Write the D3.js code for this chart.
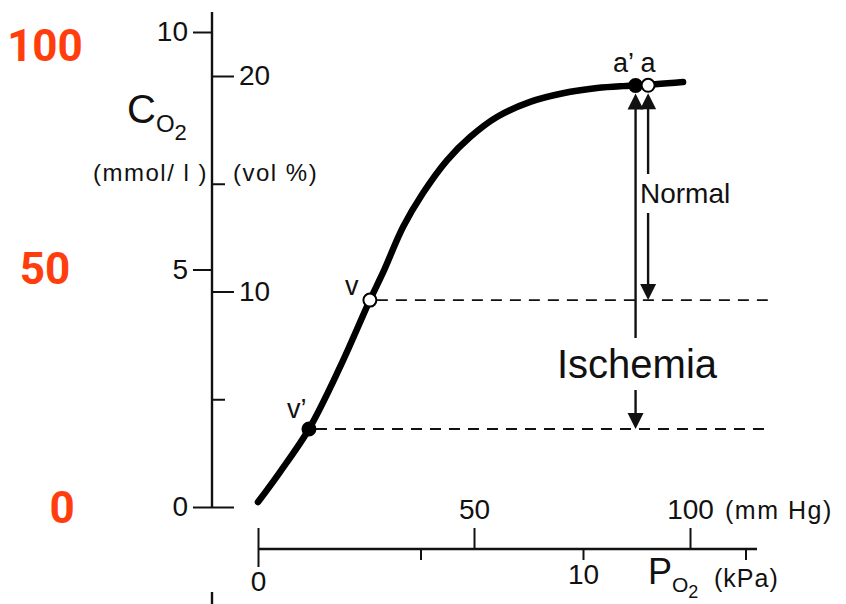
<!DOCTYPE html>
<html>
<head>
<meta charset="utf-8">
<script src="https://cdn.jsdelivr.net/npm/d3@7"></script>
<style>
  body { margin: 0; background: #fff; }
  text { font-family: "Liberation Sans", Arial, sans-serif; fill: #111; }
</style>
</head>
<body>
<script>
// O2 dissociation curve: PO2 in mm Hg, O2 content in vol %
const po2 = [0, 5, 11.8, 19, 25.9, 28.9, 33.6, 38.2, 43.8, 49.1, 55.3, 63, 70.6, 78.5, 84.5, 88, 98.4];
const o2vol = [0.23, 1.6, 3.62, 6.5, 9.6, 10.86, 13.0, 14.57, 16.1, 17.17, 18.1, 18.8, 19.2, 19.44, 19.53, 19.56, 19.72];

// marked points on the curve
const pointNames = ["v'", "v", "a'", "a"];
const pointPo2 = [11.8, 25.9, 87.4, 90.3];
const pointVol = [3.62, 9.6, 19.56, 19.57];
const pointFilled = [true, false, true, false];

// arrows: from arterial point down to venous level
const arrowNames = ["Ischemia", "Normal"];
const arrowFrom = ["a'", "a"];
const arrowTo = ["v'", "v"];

// axis ticks
const mmolTicks = [0, 5, 10];
const volTicks = [0, 5, 10, 15, 20];
const volLabels = [10, 20];
const mmHgTicks = [0, 50, 100];
const kPaTicks = [0, 5, 10, 15];
const kPaLabels = [0, 10];
const satTicks = [0, 50, 100];

const width = 846, height = 604;

const svg = d3.select("body")
  .append("svg")
  .attr("width", width)
  .attr("height", height)
  .style("background-color", "#fff");

const axisX = 212;
const baseY = 549;
const tickFont = "28px";

const x = d3.scaleLinear().domain([0, 100]).range([258, 690]);
const xKpa = d3.scaleLinear().domain([0, 15]).range([258, 745.5]);
const yMmol = d3.scaleLinear().domain([0, 10]).range([507, 32]);
const yVol = d3.scaleLinear().domain([0, 20]).range([507, 76]);
const ySat = d3.scaleLinear().domain([0, 50, 100]).range([507, 268, 45]);

/* ---------------- red saturation labels ---------------- */
svg.selectAll(".sat")
  .data(satTicks)
  .join("text")
  .attr("class", "sat")
  .attr("x", d => d === 0 ? 62 : 45)
  .attr("y", d => ySat(d))
  .attr("dy", "0.36em")
  .attr("text-anchor", "middle")
  .style("font-family", "Roboto, 'Liberation Sans', sans-serif")
  .style("font-weight", "bold")
  .style("font-size", "44px")
  .style("fill", "#ff3d0d")
  .text(d => d);

/* ---------------- left axes ---------------- */
svg.append("line")
  .attr("x1", axisX).attr("x2", axisX)
  .attr("y1", 12).attr("y2", 507)
  .attr("stroke", "#111").attr("stroke-width", 2.4);

const mmolAxis = svg.append("g")
  .attr("transform", `translate(${axisX},0)`)
  .call(d3.axisLeft(yMmol).tickValues(mmolTicks).tickSize(19).tickPadding(5));

const volAxis = svg.append("g")
  .attr("transform", `translate(${axisX},0)`)
  .call(d3.axisRight(yVol).tickValues(volTicks).tickSize(22).tickPadding(5)
    .tickFormat(d => volLabels.includes(d) ? d : ""));

volAxis.selectAll(".tick line").attr("x2", d => d % 10 === 0 ? 22 : 13);

[mmolAxis, volAxis].forEach(g => {
  g.select(".domain").remove();
  g.selectAll(".tick line").attr("stroke", "#111").attr("stroke-width", 2);
  g.selectAll(".tick text").style("font-size", tickFont).style("font-family", "'Liberation Sans', sans-serif").attr("fill", "#111");
});

// C_O2 label
const cLabel = svg.append("text").attr("x", 127).attr("y", 123);
cLabel.append("tspan").text("C").style("font-size", "40px");
cLabel.append("tspan").text("O").attr("dy", 9).style("font-size", "24px");
cLabel.append("tspan").text("2").attr("dy", 8).style("font-size", "22px");

svg.append("text")
  .attr("x", 93).attr("y", 181)
  .style("font-size", "24px")
  .style("letter-spacing", "1.5px")
  .text("(mmol/ l )");

svg.append("text")
  .attr("x", 233).attr("y", 181)
  .style("font-size", "24px")
  .style("letter-spacing", "1.5px")
  .text("(vol %)");

/* ---------------- bottom axes ---------------- */
svg.append("line")
  .attr("x1", x(0)).attr("x2", 757)
  .attr("y1", baseY).attr("y2", baseY)
  .attr("stroke", "#111").attr("stroke-width", 2.4);

const mmHgAxis = svg.append("g")
  .attr("transform", `translate(0,${baseY})`)
  .call(d3.axisTop(x).tickValues(mmHgTicks).tickSize(21).tickPadding(9));

mmHgAxis.selectAll(".tick text").filter(d => d === 0).remove();

const kPaLen = d => d === 0 ? 18 : 11;
const kPaAxis = svg.append("g")
  .attr("transform", `translate(0,${baseY})`)
  .call(d3.axisBottom(xKpa).tickValues(kPaTicks).tickSize(11).tickPadding(4)
    .tickFormat(d => kPaLabels.includes(d) ? d : ""));

kPaAxis.selectAll(".tick line").attr("y2", kPaLen);
kPaAxis.selectAll(".tick text").attr("y", d => kPaLen(d) + 4);

[mmHgAxis, kPaAxis].forEach(g => {
  g.select(".domain").remove();
  g.selectAll(".tick line").attr("stroke", "#111").attr("stroke-width", 2);
  g.selectAll(".tick text").style("font-size", tickFont).style("font-family", "'Liberation Sans', sans-serif").attr("fill", "#111");
});

svg.append("text")
  .attr("x", x(100) + 35).attr("y", 519)
  .style("font-size", "25px")
  .style("letter-spacing", "1.5px")
  .text("(mm Hg)");

const pLabel = svg.append("text").attr("x", 648).attr("y", 584);
pLabel.append("tspan").text("P").style("font-size", "36px");
pLabel.append("tspan").text("O").attr("dy", 8).style("font-size", "21px");
pLabel.append("tspan").text("2").attr("dy", 6).style("font-size", "18px");
svg.append("text")
  .attr("x", 714).attr("y", 587)
  .style("font-size", "25px")
  .style("letter-spacing", "1px")
  .text("(kPa)");

/* ---------------- axis of the next figure peeking in at the bottom ---------------- */
svg.append("line")
  .attr("x1", axisX).attr("x2", axisX)
  .attr("y1", 592).attr("y2", height)
  .attr("stroke", "#111").attr("stroke-width", 2.4);

/* ---------------- dashed levels ---------------- */
const dashEnd = 118;
const venous = pointNames.map((n, i) => ({ name: n, po2: pointPo2[i], vol: pointVol[i] }))
  .filter(p => p.name.startsWith("v"));

svg.selectAll(".level")
  .data(venous)
  .join("line")
  .attr("class", "level")
  .attr("x1", d => x(d.po2) + 7)
  .attr("x2", x(dashEnd))
  .attr("y1", d => yVol(d.vol))
  .attr("y2", d => yVol(d.vol))
  .attr("stroke", "#111")
  .attr("stroke-width", 1.8)
  .attr("stroke-dasharray", "11,8");

/* ---------------- curve ---------------- */
const curveData = po2.map((p, i) => [p, o2vol[i]]);
svg.append("path")
  .datum(curveData)
  .attr("d", d3.line().x(d => x(d[0])).y(d => yVol(d[1])).curve(d3.curveCatmullRom.alpha(0.5)))
  .attr("fill", "none")
  .attr("stroke", "#000")
  .attr("stroke-width", 6.5)
  .attr("stroke-linecap", "round");

/* ---------------- arrows ---------------- */
const pointOf = name => {
  const i = pointNames.indexOf(name);
  return { x: x(pointPo2[i]), y: yVol(pointVol[i]) };
};

const head = (tx, ty, dir) => {
  // filled triangle, tip at (tx, ty), dir = -1 points up, 1 points down
  const h = 16, w = 8;
  return `M${tx},${ty} L${tx - w},${ty - dir * h} L${tx + w},${ty - dir * h} Z`;
};

const labelPos = {
  Ischemia: { x: 557, y: 378, size: 40 },
  Normal: { x: 640, y: 203, size: 28 }
};

arrowNames.forEach((name, i) => {
  const a = pointOf(arrowFrom[i]);
  const v = pointOf(arrowTo[i]);
  const ax = a.x;
  const topTip = a.y + 8;
  const botTip = v.y;
  const g = svg.append("g");
  g.append("line")
    .attr("x1", ax).attr("x2", ax)
    .attr("y1", topTip + 10).attr("y2", botTip - 10)
    .attr("stroke", "#111").attr("stroke-width", 2.4);
  g.append("path").attr("d", head(ax, topTip, -1)).attr("fill", "#111");
  g.append("path").attr("d", head(ax, botTip, 1)).attr("fill", "#111");

  const lp = labelPos[name];
  const t = g.append("text")
    .attr("x", lp.x).attr("y", lp.y)
    .style("font-size", lp.size + "px")
    .text(name);
  const bb = t.node().getBBox();
  g.insert("rect", "text")
    .attr("x", bb.x - 2).attr("y", bb.y - 4)
    .attr("width", bb.width + 4).attr("height", bb.height + 8)
    .attr("fill", "#fff");
});

/* ---------------- points ---------------- */
svg.selectAll(".pt")
  .data(pointNames)
  .join("circle")
  .attr("class", "pt")
  .attr("cx", (d, i) => x(pointPo2[i]))
  .attr("cy", (d, i) => yVol(pointVol[i]))
  .attr("r", 6.5)
  .attr("fill", (d, i) => pointFilled[i] ? "#000" : "#fff")
  .attr("stroke", "#000")
  .attr("stroke-width", 2);

svg.append("text").attr("x", 345).attr("y", 295).style("font-size", "27px").text("v");
svg.append("text").attr("x", 287).attr("y", 418).style("font-size", "27px").text("v’");
svg.append("text").attr("x", 613).attr("y", 72).style("font-size", "27px").text("a’ a");
</script>
</body>
</html>
